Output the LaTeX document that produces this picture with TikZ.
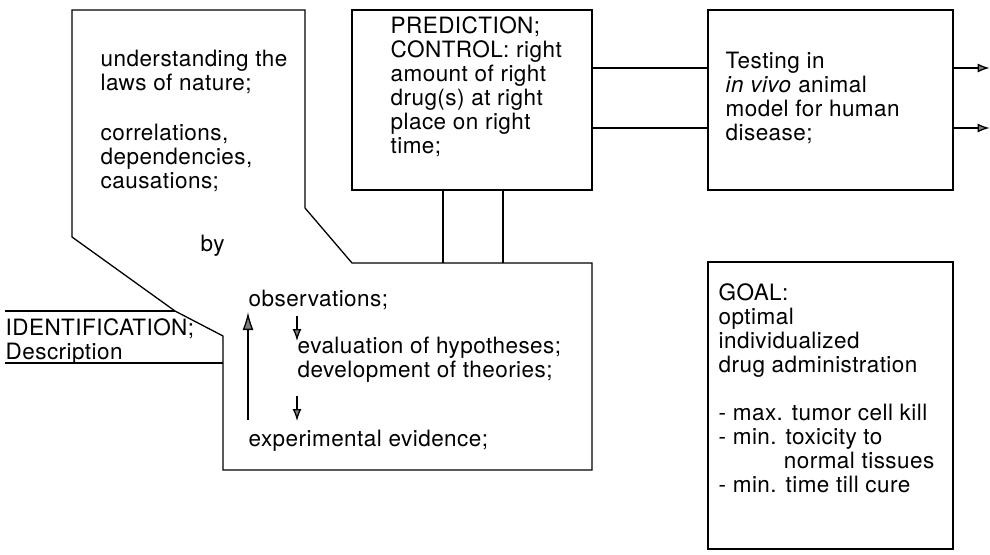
\documentclass[tikz,border=0pt]{standalone}
\usepackage{fontspec}
\setmainfont[LetterSpace=2]{TeX Gyre Heros}
\usetikzlibrary{positioning,arrows.meta}
\tikzset{
  bigtip/.style={arrows={-Latex[length=18pt,width=11pt,fill=gray]}},
  smalltip/.style={arrows={-Latex[length=12pt,width=9pt,fill=gray]}}
}
\begin{document}
\begin{tikzpicture}[x=1pt,y=-1pt,line width=1.3pt,
    txt/.style={anchor=north west,align=left,inner sep=0pt,font=\fontsize{22.5}{24}\selectfont},
    box/.style={draw,inner sep=0pt}]
	\useasboundingbox (0,0) rectangle (990,554);
	% merged outline of the upper left and lower middle boxes
	\draw (72,10) -- (305,10) -- (305,208) -- (352,263) -- (592,263) -- (592,470)
	      -- (223,470) -- (223,336) -- (175,311) -- (72,237) -- cycle;
	\node[txt] (understand) at (100,49) {understanding the\\laws of nature;};
	\node[txt] (correl) at (100,123) {correlations,\\dependencies,\\causations;};
	\node[txt] (byword) at (200,234) {by};
	% identification
	\coordinate (idA) at (5,311);
	\coordinate (idB) at (175,311);
	\coordinate (idC) at (5,363);
	\coordinate (idD) at (223,363);
	\draw (idA) -- (idB);
	\draw (idC) -- (idD);
	\node[txt] (ident) at (5,318) {IDENTIFICATION;\\Description};
	% research cycle
	\node[txt] (obs) at (248,289) {observations;};
	\node[txt] (evalhyp) at (297,336) {evaluation of hypotheses;\\development of theories;};
	\node[txt] (expev) at (248,429) {experimental evidence;};
	\coordinate (upS) at (248,420);
	\coordinate (upE) at (248,312);
	\draw[bigtip] (upS) -- (upE);
	\draw[smalltip] (297,316) -- (297,341);
	\draw[smalltip] (297,396) -- (297,421);
	% prediction
	\node[box,minimum width=240pt,minimum height=180pt] (predbox) at (472,100) {};
	\node[txt] (predict) at (390,16) {PREDICTION;\\CONTROL: right\\amount of right\\drug(s) at right\\place on right\\time;};
	\draw (predbox.south -| 443,0) -- (443,263);
	\draw (predbox.south -| 503,0) -- (503,263);
	% testing
	\node[box,minimum width=245pt,minimum height=180pt] (testbox) at (830.5,100) {};
	\node[txt] (testing) at (725,51) {Testing in\\\textit{in vivo} animal\\model for human\\disease;};
	\draw (predbox.east |- 0,68) -- (testbox.west |- 0,68);
	\draw (predbox.east |- 0,128) -- (testbox.west |- 0,128);
	\draw[smalltip] (testbox.east |- 0,68) -- ++(36,0);
	\draw[smalltip] (testbox.east |- 0,128) -- ++(36,0);
	% goal
	\node[box,minimum width=245pt,minimum height=287pt] (goalbox) at (830.5,405.5) {};
	\node[txt] (goal) at (718,283) {GOAL:\\optimal\\individualized\\drug administration\\[24pt]
	  - max. tumor cell kill\\- min. toxicity to\\\hspace*{2.9em}normal tissues\\- min. time till cure};
\end{tikzpicture}
\end{document}
